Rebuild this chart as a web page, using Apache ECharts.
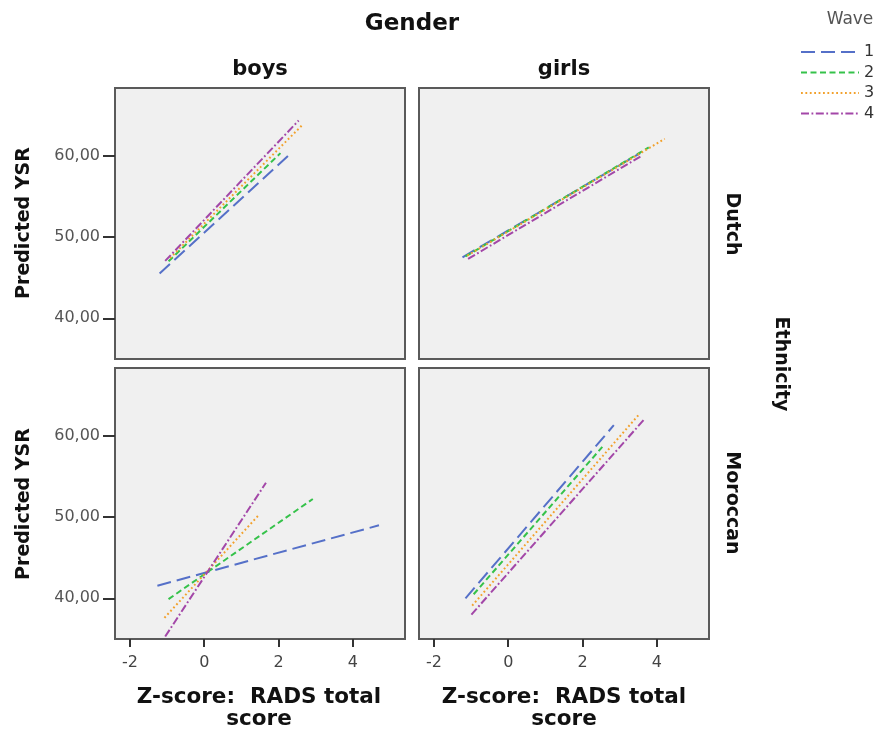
<!DOCTYPE html>
<html>
<head>
<meta charset="utf-8">
<script src="https://cdn.jsdelivr.net/npm/echarts@6/dist/echarts.min.js"></script>
<style>html,body{margin:0;padding:0;background:#fff;}#c{width:884px;height:731px;}</style>
</head>
<body>
<div id="c"></div>
<script>
// ---- data ----
const waves = ['1', '2', '3', '4'];
const xTicks = [-2, 0, 2, 4];
const yTicks = [40, 50, 60];
const genders = ['boys', 'girls'];
const ethnicities = ['Dutch', 'Moroccan'];

// each line: [start, end] of predicted YSR regression line per wave
const boysDutchX = [[-1.20, 2.36], [-0.96, 2.05], [-0.92, 2.65], [-1.05, 2.54]];
const boysDutchY = [[45.5, 60.4], [47.0, 60.3], [47.4, 63.8], [47.05, 64.3]];
const girlsDutchX = [[-1.23, 3.55], [-1.15, 3.78], [-1.10, 4.21], [-1.08, 3.60]];
const girlsDutchY = [[47.5, 60.3], [47.6, 61.0], [47.7, 62.05], [47.3, 60.0]];
const boysMorX = [[-1.26, 4.70], [-0.96, 2.92], [-1.07, 1.46], [-1.05, 1.66]];
const boysMorY = [[41.55, 48.97], [39.9, 52.2], [37.6, 50.2], [35.3, 54.2]];
const girlsMorX = [[-1.15, 2.84], [-0.93, 2.53], [-0.97, 3.50], [-0.99, 3.67]];
const girlsMorY = [[40.0, 61.27], [40.5, 58.6], [39.1, 62.5], [38.0, 62.05]];

// ---- styles ----
const colors = ['#5570c8', '#35c24a', '#f2a12c', '#a347a8'];
const dashes = [[14, 6], [6, 3.5], [1.8, 2.6], [8, 2.5, 1.8, 2.5]];
const FONT = 'DejaVu Sans';

const panels = [
  {x: boysDutchX, y: boysDutchY, left: 115, top: 88, showX: false, showY: true},
  {x: girlsDutchX, y: girlsDutchY, left: 419, top: 88, showX: false, showY: false},
  {x: boysMorX, y: boysMorY, left: 115, top: 368, showX: true, showY: true},
  {x: girlsMorX, y: girlsMorY, left: 419, top: 368, showX: true, showY: false}
];

const grid = [], xAxis = [], yAxis = [], series = [];
panels.forEach((p, i) => {
  grid.push({left: p.left, top: p.top, width: 290, height: 271, show: true,
    backgroundColor: '#f0f0f0', borderColor: '#5a5a5a', borderWidth: 2});
  xAxis.push({type: 'value', gridIndex: i, min: -2.4, max: 5.4, position: 'bottom',
    axisLine: {show: false, onZero: false}, splitLine: {show: false},
    axisTick: {show: p.showX, length: 8, customValues: xTicks, lineStyle: {color: '#333', width: 2}},
    axisLabel: {show: p.showX, customValues: xTicks, margin: 16, color: '#444',
      fontFamily: FONT, fontSize: 16}});
  yAxis.push({type: 'value', gridIndex: i, min: 35, max: 68.3, position: 'left',
    axisLine: {show: false, onZero: false}, splitLine: {show: false},
    axisTick: {show: p.showY, length: 12, customValues: yTicks, lineStyle: {color: '#333', width: 2}},
    axisLabel: {show: p.showY, customValues: yTicks, margin: 15, color: '#555',
      fontFamily: FONT, fontSize: 16,
      formatter: v => v.toFixed(2).replace('.', ',')}});
  waves.forEach((w, k) => {
    series.push({type: 'line', name: w, xAxisIndex: i, yAxisIndex: i,
      symbol: 'none', silent: true, animation: false,
      data: [[p.x[k][0], p.y[k][0]], [p.x[k][1], p.y[k][1]]],
      lineStyle: {color: colors[k], width: 2, type: dashes[k]},
      itemStyle: {color: colors[k]}});
  });
});

const boldText = (txt, x, y, size, rot) => ({
  type: 'text', x: x, y: y, rotation: rot || 0, silent: true,
  style: {text: txt, fill: '#111', font: 'bold ' + size + 'px "' + FONT + '"',
    textAlign: 'center', textVerticalAlign: 'middle', lineHeight: 22}
});

const graphic = [
  boldText('Gender', 412, 24, 23),
  boldText(genders[0], 260, 70, 21),
  boldText(genders[1], 564, 70, 21),
  boldText('Predicted YSR', 24, 223, 19, Math.PI / 2),
  boldText('Predicted YSR', 24, 504, 19, Math.PI / 2),
  boldText(ethnicities[0], 732, 224, 19, -Math.PI / 2),
  boldText(ethnicities[1], 732, 503, 19, -Math.PI / 2),
  boldText('Ethnicity', 781, 364, 19, -Math.PI / 2),
  boldText('Z-score:  RADS total\nscore', 259, 708, 21.5),
  boldText('Z-score:  RADS total\nscore', 564, 708, 21.5),
  {type: 'text', x: 850, y: 20, silent: true,
    style: {text: 'Wave', fill: '#555', font: '17px "' + FONT + '"',
      textAlign: 'center', textVerticalAlign: 'middle'}}
];

const chart = echarts.init(document.getElementById('c'), null, {renderer: 'canvas'});
chart.setOption({
  animation: false,
  backgroundColor: '#ffffff',
  grid, xAxis, yAxis, series, graphic,
  legend: {
    data: waves, orient: 'vertical', left: 795, top: 39,
    itemWidth: 58, itemHeight: 10, itemGap: 4.5,
    itemStyle: {opacity: 0, borderWidth: 0},
    textStyle: {color: '#333', fontFamily: FONT, fontSize: 16, lineHeight: 16},
    selectedMode: false
  }
});
</script>
</body>
</html>
